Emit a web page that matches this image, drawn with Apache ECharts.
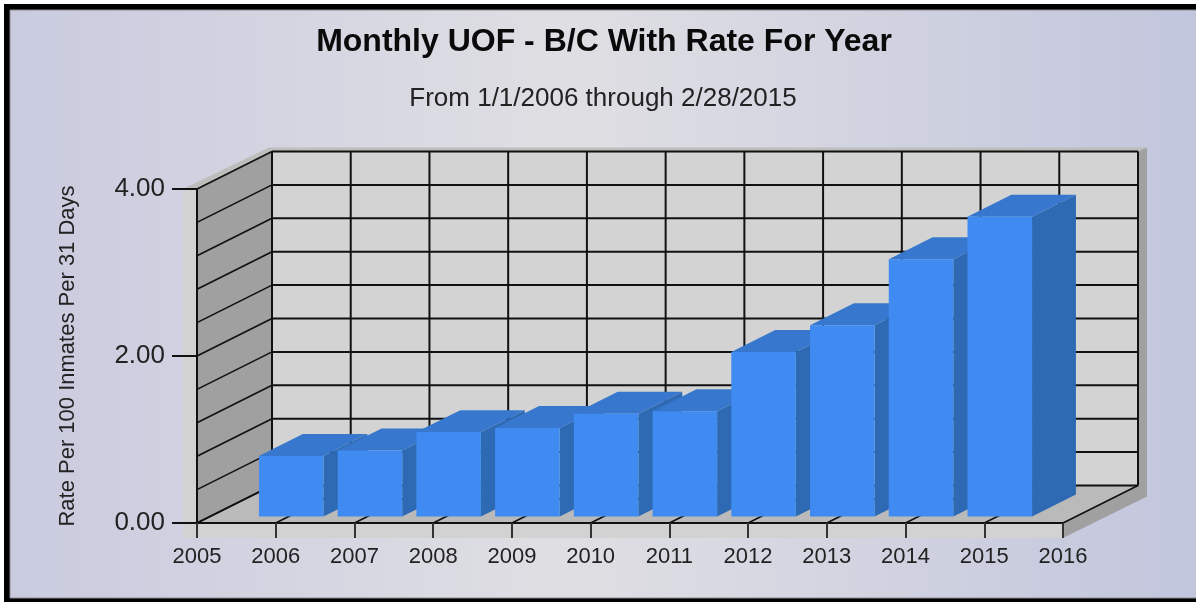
<!DOCTYPE html>
<html>
<head>
<meta charset="utf-8">
<title>Monthly UOF</title>
<style>
    html, body { margin: 0; padding: 0; background: #fff; }
    #main { width: 1196px; height: 602px; }
</style>
<script src="https://cdn.jsdelivr.net/npm/echarts@6/dist/echarts.min.js"></script>
</head>
<body>
<div id="main"></div>
<script>
var years = [2006, 2007, 2008, 2009, 2010, 2011, 2012, 2013, 2014, 2015];
var rates = [0.725, 0.79, 1.01, 1.06, 1.23, 1.26, 1.97, 2.29, 3.08, 3.59];
var gridYears = [2005, 2006, 2007, 2008, 2009, 2010, 2011, 2012, 2013, 2014, 2015, 2016];
var gridRates = [0, 0.4, 0.8, 1.2, 1.6, 2, 2.4, 2.8, 3.2, 3.6, 4];

// 3d look: how far the back wall sits from the front plane, in px
var DEPTH_X = 75;
var DEPTH_Y = 37.5;
var BAR_WIDTH = 0.82; // in years
var BAR_SHIFT = 0.03; // bars sit a little right of their tick
var BAR_NEAR = 0.175; // bar front, as part of the depth
var BAR_FAR = 0.76;
var LINE_COLOR = "#111";

function shift(pt, d) {
    return [pt[0] + DEPTH_X * d, pt[1] - DEPTH_Y * d];
}

function poly(points, color, z2) {
    return {type: "polygon", z2: z2 || 0, shape: {points: points}, style: {fill: color}};
}

function line(a, b, width, z2) {
    return {
        type: "line", z2: z2 || 1,
        shape: {x1: a[0], y1: a[1], x2: b[0], y2: b[1]},
        style: {stroke: LINE_COLOR, lineWidth: width}
    };
}

// walls, floor and the thick edge round them
function renderWalls(params, api) {
    var fl = api.coord([2005, 0]), fr = api.coord([2016, 0]);
    var tl = api.coord([2005, 4]);
    var bl = shift(fl, 1), br = shift(fr, 1), btl = shift(tl, 1);
    var btr = [br[0], btl[1]];
    return {
        type: "group",
        children: [
            poly([[tl[0] - 14, tl[1]], [btl[0] - 3, btl[1] - 4], [btr[0] + 9, btr[1] - 4], btr, btl, tl], "#bdbdbb"),
            poly([[tl[0] - 14, tl[1]], tl, [fl[0], fl[1] + 15], [fl[0] - 14, fl[1] + 15]], "#d2d2d2"),
            poly([[fl[0] - 14, fl[1]], fr, [fr[0], fr[1] + 15], [fl[0] - 14, fl[1] + 15]], "#d2d2d2"),
            poly([fr, br, btr, [btr[0] + 9, btr[1] - 4], [br[0] + 9, br[1] + 11], [fr[0], fr[1] + 15]], "#a0a0a0"),
            poly([btl, btr, br, bl], "#d3d3d3"),
            poly([tl, btl, bl, fl], "#a0a0a0"),
            poly([fl, bl, br, fr], "#bababa"),
            line(tl, fl, 2),
            line(btl, bl, 2)
        ]
    };
}

function renderRateGrid(params, api) {
    var front = api.coord([2005, api.value(0)]);
    var backRight = shift(api.coord([2016, api.value(0)]), 1);
    return {
        type: "group",
        children: [
            line(front, shift(front, 1), 1.6),
            line(shift(front, 1), backRight, 2)
        ]
    };
}

function renderYearGrid(params, api) {
    var front = api.coord([api.value(0), 0]);
    var top = api.coord([api.value(0), 4]);
    return {
        type: "group",
        children: [
            line(front, shift(front, 1), 1.6),
            line(shift(front, 1), shift(top, 1), 2)
        ]
    };
}

function renderBar(params, api) {
    var year = api.value(0) + BAR_SHIFT;
    var left = year - BAR_WIDTH / 2, right = year + BAR_WIDTH / 2;
    var lb = shift(api.coord([left, 0]), BAR_NEAR);
    var rb = shift(api.coord([right, 0]), BAR_NEAR);
    var lt = shift(api.coord([left, api.value(1)]), BAR_NEAR);
    var rt = shift(api.coord([right, api.value(1)]), BAR_NEAR);
    var rbFar = shift(api.coord([right, 0]), BAR_FAR);
    var ltFar = shift(api.coord([left, api.value(1)]), BAR_FAR);
    var rtFar = shift(api.coord([right, api.value(1)]), BAR_FAR);
    return {
        type: "group",
        children: [
            poly([rb, rbFar, rtFar, rt], "#2e69b4", 0),
            poly([lt, ltFar, rtFar, rt], "#3778ce", 1),
            poly([lb, rb, rt, lt], "#3f8bf1", 2)
        ]
    };
}

function initChart() {
    var myChart = echarts.init(document.getElementById("main"));
    var barData = [];
    for (var i = 0; i < years.length; i++) {
        barData.push([years[i], rates[i]]);
    }
    var option = {
        animation: false,
        textStyle: {fontFamily: "Liberation Sans"},
        graphic: [{
            type: "rect", z: -10, silent: true,
            shape: {x: 4, y: 4, width: 1196, height: 600},
            style: {fill: "#000"}
        }, {
            type: "rect", z: -9, silent: true,
            shape: {x: 10, y: 10, width: 1190, height: 588},
            style: {
                stroke: "#8a8a90",
                lineWidth: 1,
                fill: new echarts.graphic.LinearGradient(0, 0, 1, 0, [
                    {offset: 0, color: "#c9cbdf"},
                    {offset: 0.47, color: "#dfdfe3"},
                    {offset: 1, color: "#c2c6dd"}
                ])
            }
        }],
        title: [{
            text: "Monthly UOF - B/C With Rate For Year",
            left: 599, top: 21, textAlign: "center",
            textStyle: {fontSize: 32, fontWeight: "bold", color: "#0a0a0a", fontFamily: "Liberation Sans"}
        }, {
            text: "From 1/1/2006 through 2/28/2015",
            left: 598, top: 81, textAlign: "center",
            textStyle: {fontSize: 26, fontWeight: "normal", color: "#222", fontFamily: "Liberation Sans"}
        }],
        grid: {left: 197, right: 133, top: 189, bottom: 79},
        xAxis: {
            type: "value", min: 2005, max: 2016, interval: 1, z: 5,
            splitLine: {show: false},
            axisLine: {lineStyle: {color: LINE_COLOR, width: 2}},
            axisTick: {length: 15, lineStyle: {color: "#333", width: 2}},
            axisLabel: {
                fontSize: 22, color: "#222", margin: 23,
                formatter: function (v) { return String(v); }
            }
        },
        yAxis: {
            type: "value", min: 0, max: 4, interval: 2, z: 5,
            splitLine: {show: false},
            axisLine: {show: false},
            axisTick: {length: 25, lineStyle: {color: LINE_COLOR, width: 2}},
            axisLabel: {
                fontSize: 26, color: "#222", margin: 32,
                formatter: function (v) { return v.toFixed(2); }
            },
            name: "Rate Per 100 Inmates Per 31 Days",
            nameLocation: "middle", nameRotate: 90, nameGap: 118,
            nameTextStyle: {fontSize: 22, color: "#222"}
        },
        series: [
            {type: "custom", z: 1, silent: true, renderItem: renderWalls, data: [[2005]], clip: false},
            {type: "custom", z: 2, silent: true, renderItem: renderRateGrid, data: gridRates.map(function (v) { return [v]; }), clip: false},
            {type: "custom", z: 2, silent: true, renderItem: renderYearGrid, data: gridYears.map(function (v) { return [v]; }), clip: false},
            {type: "custom", z: 3, silent: true, renderItem: renderBar, data: barData, clip: false}
        ]
    };
    myChart.setOption(option);
}

initChart();
</script>
</body>
</html>
